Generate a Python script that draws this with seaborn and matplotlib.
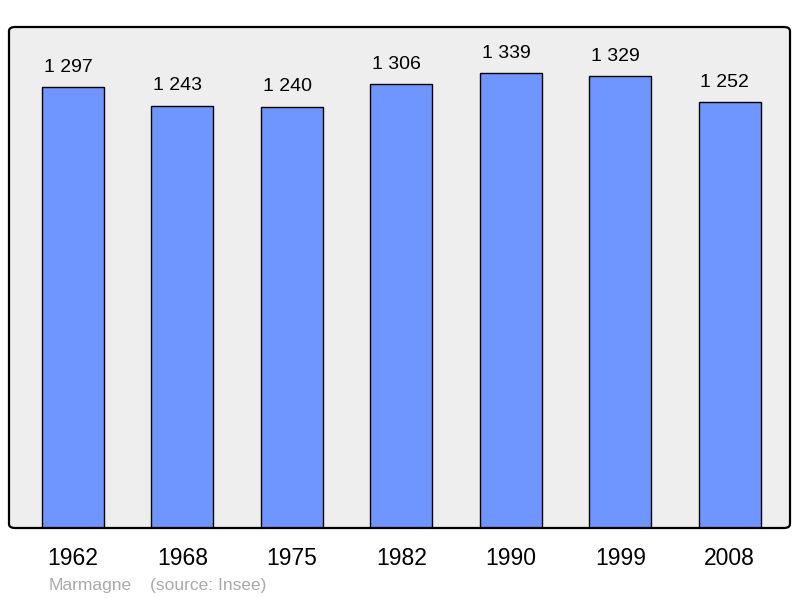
import matplotlib
matplotlib.use('Agg')
import matplotlib.pyplot as plt
from matplotlib.patches import FancyBboxPatch
import seaborn as sns
import pandas as pd

# données de population
years = ['1962', '1968', '1975', '1982', '1990', '1999', '2008']
population = [1297, 1243, 1240, 1306, 1339, 1329, 1252]
labels = ['1 297', '1 243', '1 240', '1 306', '1 339', '1 329', '1 252']
town = 'Marmagne'
source = '(source: Insee)'

df = pd.DataFrame({'annee': years, 'pop': population})

sns.set_theme(style='white')
plt.rcParams['font.family'] = ['Liberation Sans', 'DejaVu Sans']

fig = plt.figure(figsize=(8, 5.98), dpi=100)
ax = fig.add_axes([9 / 800, 70 / 598, 781 / 800, 501 / 598])
ax.set_facecolor('none')

# fond gris + cadre arrondi
bg = FancyBboxPatch((0, 0), 1, 1, boxstyle='round,pad=0,rounding_size=0.008',
                    transform=ax.transAxes, facecolor='#eeeeee', edgecolor='none',
                    zorder=0, clip_on=False)
ax.add_patch(bg)

sns.barplot(data=df, x='annee', y='pop', color='#6f95ff', width=0.566,
            edgecolor='black', linewidth=1.0, saturation=1, ax=ax, zorder=2)

# étiquettes de valeur (légèrement décalées à gauche comme l'original)
for i, (v, lab) in enumerate(zip(population, labels)):
    ax.annotate(lab, (i, v), xytext=(-3.5, 11), textcoords='offset points',
                ha='center', va='baseline', fontsize=14, color='black')

frame = FancyBboxPatch((0, 0), 1, 1, boxstyle='round,pad=0,rounding_size=0.008',
                       transform=ax.transAxes, facecolor='none', edgecolor='black',
                       linewidth=1.6, zorder=5, clip_on=False)
ax.add_patch(frame)

for s in ax.spines.values():
    s.set_visible(False)

ax.set_xlim(-0.584, 6.55)
ax.set_ylim(0, 1474)
ax.set_yticks([])
ax.set_xlabel('')
ax.set_ylabel('')
ax.tick_params(axis='x', length=0, pad=14, labelsize=16.5, colors='black')

fig.text(49 / 800, 1 - 590 / 598, town, fontsize=12.5, color='#aaaaaa', va='baseline')
fig.text(150 / 800, 1 - 590 / 598, source, fontsize=12.5, color='#aaaaaa', va='baseline')

fig.savefig('out.png', dpi=100, facecolor='white')
